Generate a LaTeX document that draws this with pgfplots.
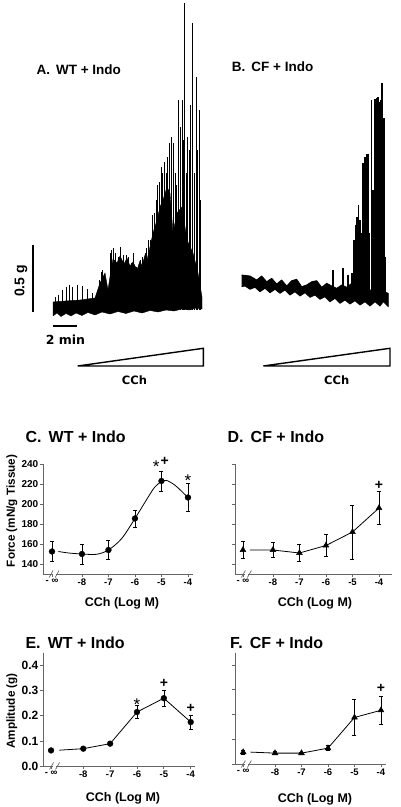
\documentclass[border=0pt]{standalone}
\usepackage{pgfplots}
\pgfplotsset{compat=1.18}
\usepackage{fontspec}
\setmainfont{Liberation Sans}
\newfontfamily\dejavu{DejaVu Sans}
\pgfplotsset{
 panel/.style={scale only axis, anchor=south west, axis x line*=bottom, axis y line*=left,
  axis line style={black!60, line width=0.9pt}, tick style={black!60, line width=0.7pt},
  tick align=outside, major tick length=3pt, clip=false,
  /pgf/number format/assume math mode=true,
  xticklabels={- ∞,-8,-7,-6,-5,-4},
  xticklabel style={font=\bfseries\fontsize{9.5}{10}\selectfont, inner sep=1.5pt},
  yticklabel style={inner sep=1.5pt}},
 dat/.style={black, line width=0.8pt},
 eb/.style={error bars/.cd, y dir=both, y explicit, error bar style={black, line width=0.6pt}, error mark options={rotate=90, mark size=2pt, black, line width=0.6pt}},
 trace/.style={anchor=south west, scale only axis, hide axis, clip=false},
}
\tikzset{ast/.style={font=\fontsize{17}{17}\selectfont, inner sep=0pt, yshift=-3.7pt},
 pls/.style={font=\bfseries\fontsize{14}{14}\selectfont, inner sep=0pt}}
\newcommand{\brk}[2]{%
 \fill[white] (axis cs:#1,#2) ++(-1.5pt,-1pt) rectangle ++(3pt,2pt);
 \draw[black!60, line width=0.7pt] (axis cs:#1,#2) ++(-5pt,-3.5pt) -- ++(4pt,7pt);
 \draw[black!60, line width=0.7pt] (axis cs:#1,#2) ++(1pt,-3.5pt) -- ++(4pt,7pt);}
\begin{document}
\begin{tikzpicture}[x=1pt,y=1pt]
\useasboundingbox (0pt,0pt) rectangle (400pt,807pt);

% ---------- Trace A ----------
\begin{axis}[trace, at={(50pt,487pt)}, width=155pt, height=320pt, xmin=50, xmax=205, ymin=-10, ymax=310]
\addplot[fill=black, draw=black, line width=0.4pt] coordinates {
(53,-6) (57,-3) (61,-6.5) (66,-3.5) (71,-6) (76,-3) (82,-5.5) (88,-2.5) (95,-5) (102,-2) (110,-4) (118,-1.5) (126,-3.5) (134,-1) (142,-3) (150,-0.5) (158,-2) (166,0) (174,-1) (182,1) (190,0) (196,2) (202,1)
(202,13) (198,37) (193,57) (187,70) (182,103) (177,97) (173,77) (170,117) (167,123) (163,110) (160,103) (157,90) (153,77) (150,63) (147,50) (145,55) (142,44) (140,49) (137,40) (133,48) (130,44) (127,52) (124,46) (120,54) (117,47) (113,51) (111,40) (108,20) (105,37) (100,27) (95,12) (80,10) (65,9) (53,8)};
\addplot[ycomb, black, line width=0.7pt, mark=none] coordinates {
(55,13.3) (58.3,15) (62.3,20) (66,23.3) (69.3,25) (72.7,22.7) (77.3,25) (82.7,24) (87.7,20.7) (92,16.7)
(99.3,30) (101,38.3) (102.7,40) (104.3,33.3) (107.3,21.7) (110,56.7) (111.7,60) (113.3,61.7) (115.7,56.7)
(118.3,53.3) (120.7,63.3) (123.3,55) (126,55) (128.3,53.3) (131,46.7) (133.3,56.7) (136.7,43.3) (140,50)
(142.7,53.3) (145,56.7) (146.7,61.7) (148.3,70) (150.7,70) (152.7,95) (154.3,96.7) (156,110) (157.7,125)
(159.3,128.3) (161,143.3) (162.7,136.7) (164.3,148.3) (166,136.7) (167.7,153.3) (169.3,166.7) (171.3,173.3)
(173.3,166.7) (175.3,136.7) (176.7,125) (178.7,210) (180,183.3) (182,210) (183.3,170) (184.3,306.7)
(186,136.7) (187.7,173.3) (189,160) (190.7,205) (192.7,286.7) (194.3,136.7) (196,233.3) (197.7,160)
(199,200) (200.7,110)};
\end{axis}

% ---------- Trace B ----------
\begin{axis}[trace, at={(235pt,487pt)}, width=160pt, height=320pt, xmin=235, xmax=395, ymin=-20, ymax=300]
\addplot[fill=black, draw=black, line width=0.8pt, line join=round] coordinates {
(241.7,25) (250,24) (256.7,20) (261.7,24) (266.7,18.3) (271.7,21.7) (276.7,16) (281.7,20) (286.7,14)
(291.7,19.3) (296.7,20.7) (301.7,13.3) (306.7,15) (311.7,18.3) (316.7,19.3) (321.7,12.7) (326.7,16.7)
(331.7,14) (336.7,11.7) (341.7,15) (346.7,12.7) (351.7,16.7) (356.7,13.3) (363.3,11.7) (370,10)
(376.7,10) (383.3,8.3) (388.3,6.7)
(388.3,-6.7) (383.3,-1.7) (380,-6) (375,-1.7) (370,-6) (365,-1.7) (360,-5) (355,-0.7) (350,-4) (345,0)
(340,-3.3) (335,1.7) (330,-1.7) (325,3.3) (320,0.7) (315,5) (310,2.7) (305,7.3) (300,4) (295,8.3)
(290,5) (285,10) (280,6.7) (275,10.7) (270,7.3) (265,11.7) (260,8.3) (255,12.7) (250,10.7) (245,14)
(241.7,13.3)};
\addplot[ycomb, black, line width=1.8pt, mark=none] coordinates {
(332.7,30) (342.7,32) (348.3,25) (351.7,27) (354,60) (355.5,75) (357,83) (358.5,95) (360,80) (361.5,67)
(363.3,137) (365,143) (366.5,146) (368,146) (369.3,67) (371.5,200) (373.3,110) (375,201) (376.5,202)
(378,203) (379.5,198) (381,200) (382.3,217) (383.8,182) (385.3,43)};
\end{axis}

% ---------- Canvas for labels, scale bars and wedges ----------
\begin{axis}[trace, at={(0pt,0pt)}, width=400pt, height=807pt, xmin=0, xmax=400, ymin=0, ymax=807]
\addplot[black, line width=1.8pt] coordinates {(33,562) (33,495)};
\addplot[black, line width=1.8pt] coordinates {(53,481) (77,481)};
\addplot[black, line width=1.4pt, line join=miter] coordinates {(77.7,441) (203.3,458.7) (203.3,441) (77.7,441)};
\addplot[black, line width=1.4pt, line join=miter] coordinates {(263.3,441) (390,458.7) (390,441) (263.3,441)};
\node[rotate=90, font=\bfseries\fontsize{14}{14}\selectfont] at (axis cs:21,526) {0.5 g};
\node[font=\dejavu\bfseries\fontsize{12.5}{13}\selectfont] at (axis cs:65.5,467) {2 min};
\node[font=\dejavu\bfseries\fontsize{11.5}{12}\selectfont] at (axis cs:134.5,427) {CCh};
\node[font=\dejavu\bfseries\fontsize{11.5}{12}\selectfont] at (axis cs:336.7,427) {CCh};
\node[anchor=west, font=\bfseries\fontsize{13.5}{14}\selectfont] at (axis cs:33,737) {A.\hspace{0.45em}WT + Indo};
\node[anchor=west, font=\bfseries\fontsize{13.5}{14}\selectfont] at (axis cs:228.3,740.3) {B.\hspace{0.45em}CF + Indo};
\node[anchor=west, font=\bfseries\fontsize{16}{17}\selectfont] at (axis cs:22,370) {C.\hspace{0.45em}WT + Indo};
\node[anchor=west, font=\bfseries\fontsize{16}{17}\selectfont] at (axis cs:224,370) {D.\hspace{0.45em}CF + Indo};
\node[anchor=west, font=\bfseries\fontsize{16}{17}\selectfont] at (axis cs:22,164) {E.\hspace{0.45em}WT + Indo};
\node[anchor=west, font=\bfseries\fontsize{16}{17}\selectfont] at (axis cs:226.7,164) {F.\hspace{0.45em}CF + Indo};
\node[rotate=90, font=\bfseries\fontsize{11.7}{12}\selectfont] at (axis cs:12,296) {Force (mN/g Tissue)};
\node[rotate=90, font=\bfseries\fontsize{11.7}{12}\selectfont] at (axis cs:12,96) {Amplitude (g)};
\node[font=\bfseries\fontsize{12.5}{13}\selectfont] at (axis cs:122,204) {CCh (Log M)};
\node[font=\bfseries\fontsize{12.5}{13}\selectfont] at (axis cs:315,204) {CCh (Log M)};
\node[font=\bfseries\fontsize{12.5}{13}\selectfont] at (axis cs:123,8.5) {CCh (Log M)};
\node[font=\bfseries\fontsize{12.5}{13}\selectfont] at (axis cs:315,7.5) {CCh (Log M)};
\end{axis}

% ---------- C ----------
\begin{axis}[panel, at={(43pt,233pt)}, width=150pt, height=110pt, xmin=-9.47, xmax=-3.81, ymin=130, ymax=240,
  ytick={140,160,180,200,220,240}, xtick={-9.13,-8,-7,-6,-5,-4},
  yticklabel style={font=\bfseries\fontsize{10}{11}\selectfont}]
\addplot[dat, smooth, tension=0.5] coordinates {(-8.89,152.5) (-8.5,151) (-8,150) (-7.45,149.7) (-7,154) (-6.5,165.5) (-6,185.5) (-5.5,207) (-5.25,217) (-5,222.5) (-4.8,223.5) (-4.5,219) (-4.25,213) (-4,206.5)};
\addplot[black, only marks, mark=*, mark size=2.9pt, eb] table[x=x, y=y, y error=e] {
x y e
-9.13 152.5 10
-8 150 10
-7 154 9.5
-6 185.5 8.5
-5 223 10
-4 206.5 14
};
\node[ast] at (axis cs:-5.2,240.7) {*};
\node[pls] at (axis cs:-4.88,242.3) {+};
\node[ast] at (axis cs:-4,227.3) {*};
\brk{-9.05}{130}
\end{axis}

% ---------- D ----------
\begin{axis}[panel, at={(235pt,233pt)}, width=157pt, height=110pt, xmin=-9.43, xmax=-3.51, ymin=130, ymax=240,
  ytick={140,160,180,200,220,240}, yticklabels={}, xtick={-9.13,-8,-7,-6,-5,-4}]
\addplot[dat] coordinates {(-8.87,154) (-8,154) (-7,151) (-6,158.5) (-5,172) (-4,196)};
\addplot[black, only marks, mark=triangle*, mark size=3.4pt, eb] table[x=x, y=y, y error=e] {
x y e
-9.13 154 8.3
-8 154 7.5
-7 151 8.8
-6 158.5 11
-5 172 27
-4 196 16.5
};
\node[pls] at (axis cs:-4,219) {+};
\brk{-9.0}{130}
\end{axis}

% ---------- E ----------
\begin{axis}[panel, at={(43pt,41pt)}, width=152pt, height=113pt, xmin=-9.5, xmax=-3.84, ymin=0, ymax=0.45,
  ytick={0,0.1,0.2,0.3,0.4}, xtick={-9.2,-8,-7,-6,-5,-4},
  yticklabel style={font=\bfseries\fontsize{12}{13}\selectfont, /pgf/number format/fixed, /pgf/number format/fixed zerofill, /pgf/number format/precision=1}]
\addplot[dat] coordinates {(-8.89,0.063) (-8,0.069) (-7,0.089) (-6,0.215) (-5,0.270) (-4,0.175)};
\addplot[black, only marks, mark=*, mark size=2.9pt, eb] table[x=x, y=y, y error=e] {
x y e
-9.2 0.062 0.004
-8 0.069 0.004
-7 0.089 0.004
-6 0.215 0.027
-5 0.270 0.033
-4 0.175 0.027
};
\node[ast] at (axis cs:-6,0.261) {*};
\node[pls] at (axis cs:-5,0.327) {+};
\node[pls] at (axis cs:-4,0.228) {+};
\brk{-9.07}{0}
\end{axis}

% ---------- F ----------
\begin{axis}[panel, at={(235pt,43pt)}, width=151pt, height=111.4pt, xmin=-9.51, xmax=-3.81, ymin=0, ymax=0.45,
  ytick={0,0.1,0.2,0.3,0.4}, yticklabels={}, xtick={-9.2,-8,-7,-6,-5,-4}]
\addplot[dat] coordinates {(-8.92,0.048) (-8,0.044) (-7,0.044) (-6,0.064) (-5,0.188) (-4,0.217)};
\addplot[black, only marks, mark=triangle*, mark size=3.4pt, eb] table[x=x, y=y, y error=e] {
x y e
-9.2 0.048 0.009
-8 0.044 0.006
-7 0.044 0.004
-6 0.064 0.010
-5 0.188 0.074
-4 0.217 0.058
};
\node[pls] at (axis cs:-4,0.304) {+};
\brk{-9.08}{0}
\end{axis}
\end{tikzpicture}
\end{document}
